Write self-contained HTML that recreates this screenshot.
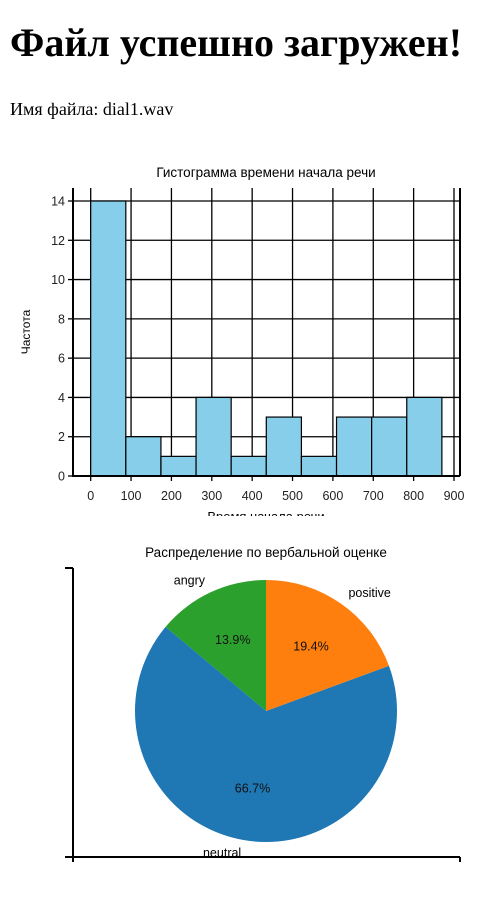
<!DOCTYPE html>
<html><head><meta charset="utf-8">
<style>
body{margin:0;background:#fff;width:490px;height:906px;overflow:hidden;position:relative}
h1{position:absolute;left:10px;top:19px;margin:0;font:bold 40px "Liberation Serif","Noto Serif CJK SC",serif;white-space:nowrap}
p{position:absolute;left:10px;top:99px;margin:0;font:18px "Liberation Serif",serif}
svg{position:absolute;left:0;top:0}
text{font-family:"Liberation Sans",sans-serif}
</style></head>
<body>
<h1>Файл успешно загружен!</h1>
<p>Имя файла: dial1.wav</p>
<svg id="s" width="490" height="906">
<defs><clipPath id="hc"><rect x="0" y="150" width="490" height="366"/></clipPath></defs>
<g id="hist" clip-path="url(#hc)"></g>
<g id="pie"></g>
</svg>
<script>
const binEdges=[0,87,174,261,348,435,522,609,696,783,870];
const counts=[14,2,1,4,1,3,1,3,3,4];
const xTicks=[0,100,200,300,400,500,600,700,800,900];
const yTicks=[0,2,4,6,8,10,12,14];
const pieLabels=["angry","neutral","positive"];
const pieValues=[13.9,66.7,19.4];
const pieColors=["#2ca02c","#1f77b4","#ff7f0e"];

const NS="http://www.w3.org/2000/svg";
function mk(p,t,a){const e=document.createElementNS(NS,t);for(const k in a)e.setAttribute(k,a[k]);p.appendChild(e);return e;}
const H=document.getElementById('hist');
const L=73,R=460,T=188,B=476;
const x=v=>90.7+v*(454-90.7)/900;
const y=v=>476-v*(476-201)/14;
let t=mk(H,'text',{x:266,y:177,'font-size':13.5,'text-anchor':'middle'});t.textContent="Гистограмма времени начала речи";

xTicks.forEach(v=>{let l=mk(H,'line',{x1:x(v),x2:x(v),y1:T,y2:B,stroke:'#000','stroke-width':1.3});

mk(H,'line',{x1:x(v),x2:x(v),y1:B,y2:B+5,stroke:'#000','stroke-width':1.3});
let tt=mk(H,'text',{x:x(v),y:B+24,'font-size':12.5,'text-anchor':'middle',fill:'#222'});tt.textContent=v;
});
yTicks.forEach(v=>{let l=mk(H,'line',{x1:L,x2:R,y1:y(v),y2:y(v),stroke:'#000','stroke-width':1.3});

mk(H,'line',{x1:L-5,x2:L,y1:y(v),y2:y(v),stroke:'#000','stroke-width':1.3});
let tt=mk(H,'text',{x:L-8,y:y(v)+4.5,'font-size':12.5,'text-anchor':'end',fill:'#222'});tt.textContent=v;
});
counts.forEach((c,i)=>{let r=mk(H,'rect',{x:x(binEdges[i]),y:y(c),width:x(binEdges[i+1])-x(binEdges[i]),height:y(0)-y(c),fill:'#87ceeb',stroke:'#000','stroke-width':1.2});
});
mk(H,'line',{x1:L,x2:L,y1:T,y2:B+1,stroke:'#000','stroke-width':2});
mk(H,'line',{x1:L,x2:R,y1:B,y2:B,stroke:'#000','stroke-width':2});
mk(H,'line',{x1:R,x2:R,y1:T,y2:B,stroke:'#000','stroke-width':2});
t=mk(H,'text',{x:266,y:521,'font-size':13,'text-anchor':'middle'});t.textContent="Время начала речи";

t=mk(H,'text',{x:0,y:0,'font-size':12,'text-anchor':'middle',transform:'translate(30,332) rotate(-90)'});t.textContent="Частота";


const P=document.getElementById('pie');
const cx=266,cy=711,r=131;
t=mk(P,'text',{x:266,y:557,'font-size':13.5,'text-anchor':'middle'});t.textContent="Распределение по вербальной оценке";

const tot=pieValues.reduce((a,b)=>a+b,0);
let a0=90;
pieValues.forEach((v,i)=>{const a1=a0+v/tot*360;
const p=d=>[cx+r*Math.cos(d*Math.PI/180),cy-r*Math.sin(d*Math.PI/180)];
const [x0,y0]=p(a0),[x1,y1]=p(a1);
let s=mk(P,'path',{d:`M${cx},${cy}L${x0},${y0}A${r},${r} 0 ${a1-a0>180?1:0} 0 ${x1},${y1}Z`,fill:pieColors[i]});

const m=(a0+a1)/2*Math.PI/180;
let lt=mk(P,'text',{x:cx+1.1*r*Math.cos(m),y:cy-1.1*r*Math.sin(m)+4,'font-size':12.5,'text-anchor':Math.cos(m)>0.05?'start':(Math.cos(m)<-0.05?'end':'middle')});lt.textContent=pieLabels[i];

let pt=mk(P,'text',{x:cx+0.6*r*Math.cos(m),y:cy-0.6*r*Math.sin(m)+4,'font-size':12.5,'text-anchor':'middle',fill:'#111'});pt.textContent=v.toFixed(1)+'%';

a0=a1;});
mk(P,'line',{x1:73,x2:73,y1:568,y2:862,stroke:'#000','stroke-width':2});
mk(P,'line',{x1:65,x2:73,y1:568,y2:568,stroke:'#000','stroke-width':2});
mk(P,'line',{x1:65,x2:460,y1:857,y2:857,stroke:'#000','stroke-width':2});
mk(P,'line',{x1:460,x2:460,y1:857,y2:862,stroke:'#000','stroke-width':2});
</script>
</body></html>
